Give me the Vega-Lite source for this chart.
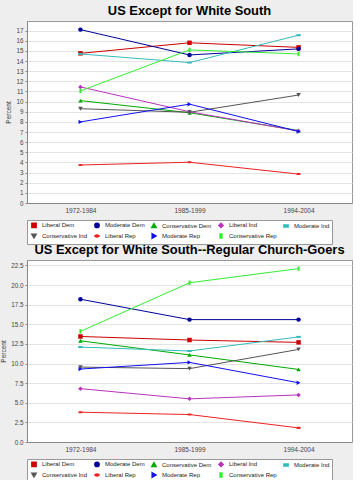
{
  "$schema": "https://vega.github.io/schema/vega-lite/v6.json",
  "background": "#eeeeee",
  "padding": {"left": 0, "top": 4, "right": 0, "bottom": 0},
  "spacing": -2,
  "datasets": {
    "all": [
      {"series": "Liberal Dem", "period": "1972-1984", "value": 14.76},
      {"series": "Liberal Dem", "period": "1985-1999", "value": 15.8},
      {"series": "Liberal Dem", "period": "1994-2004", "value": 15.35},
      {"series": "Moderate Dem", "period": "1972-1984", "value": 17.1},
      {"series": "Moderate Dem", "period": "1985-1999", "value": 14.6},
      {"series": "Moderate Dem", "period": "1994-2004", "value": 15.2},
      {"series": "Conservative Dem", "period": "1972-1984", "value": 10.1},
      {"series": "Conservative Dem", "period": "1985-1999", "value": 8.9},
      {"series": "Conservative Dem", "period": "1994-2004", "value": 7.15},
      {"series": "Liberal Ind", "period": "1972-1984", "value": 11.45},
      {"series": "Liberal Ind", "period": "1985-1999", "value": 9.0},
      {"series": "Liberal Ind", "period": "1994-2004", "value": 7.1},
      {"series": "Moderate Ind", "period": "1972-1984", "value": 14.7},
      {"series": "Moderate Ind", "period": "1985-1999", "value": 13.85},
      {"series": "Moderate Ind", "period": "1994-2004", "value": 16.55},
      {"series": "Conservative Ind", "period": "1972-1984", "value": 9.3},
      {"series": "Conservative Ind", "period": "1985-1999", "value": 8.95},
      {"series": "Conservative Ind", "period": "1994-2004", "value": 10.65},
      {"series": "Liberal Rep", "period": "1972-1984", "value": 3.75},
      {"series": "Liberal Rep", "period": "1985-1999", "value": 4.02},
      {"series": "Liberal Rep", "period": "1994-2004", "value": 2.85},
      {"series": "Moderate Rep", "period": "1972-1984", "value": 8.0},
      {"series": "Moderate Rep", "period": "1985-1999", "value": 9.75},
      {"series": "Moderate Rep", "period": "1994-2004", "value": 7.05},
      {"series": "Conservative Rep", "period": "1972-1984", "value": 11.05},
      {"series": "Conservative Rep", "period": "1985-1999", "value": 15.1},
      {"series": "Conservative Rep", "period": "1994-2004", "value": 14.7}
    ],
    "church": [
      {"series": "Liberal Dem", "period": "1972-1984", "value": 13.45},
      {"series": "Liberal Dem", "period": "1985-1999", "value": 13.0},
      {"series": "Liberal Dem", "period": "1994-2004", "value": 12.7},
      {"series": "Moderate Dem", "period": "1972-1984", "value": 18.2},
      {"series": "Moderate Dem", "period": "1985-1999", "value": 15.6},
      {"series": "Moderate Dem", "period": "1994-2004", "value": 15.6},
      {"series": "Conservative Dem", "period": "1972-1984", "value": 12.9},
      {"series": "Conservative Dem", "period": "1985-1999", "value": 11.1},
      {"series": "Conservative Dem", "period": "1994-2004", "value": 9.25},
      {"series": "Liberal Ind", "period": "1972-1984", "value": 6.8},
      {"series": "Liberal Ind", "period": "1985-1999", "value": 5.5},
      {"series": "Liberal Ind", "period": "1994-2004", "value": 6.0},
      {"series": "Moderate Ind", "period": "1972-1984", "value": 12.1},
      {"series": "Moderate Ind", "period": "1985-1999", "value": 11.6},
      {"series": "Moderate Ind", "period": "1994-2004", "value": 13.4},
      {"series": "Conservative Ind", "period": "1972-1984", "value": 9.55},
      {"series": "Conservative Ind", "period": "1985-1999", "value": 9.35},
      {"series": "Conservative Ind", "period": "1994-2004", "value": 11.8},
      {"series": "Liberal Rep", "period": "1972-1984", "value": 3.8},
      {"series": "Liberal Rep", "period": "1985-1999", "value": 3.5},
      {"series": "Liberal Rep", "period": "1994-2004", "value": 1.8},
      {"series": "Moderate Rep", "period": "1972-1984", "value": 9.3},
      {"series": "Moderate Rep", "period": "1985-1999", "value": 10.15},
      {"series": "Moderate Rep", "period": "1994-2004", "value": 7.55},
      {"series": "Conservative Rep", "period": "1972-1984", "value": 14.1},
      {"series": "Conservative Rep", "period": "1985-1999", "value": 20.3},
      {"series": "Conservative Rep", "period": "1994-2004", "value": 22.1}
    ]
  },
  "resolve": {
    "scale": {"color": "independent", "shape": "independent", "y": "independent", "x": "independent"},
    "legend": {"color": "independent", "shape": "independent"}
  },
  "vconcat": [
    {
      "title": "US Except for White South",
      "width": 325,
      "height": 182,
      "data": {"name": "all"},
      "encoding": {
        "x": {"field": "period", "type": "ordinal", "scale": {"type": "point", "padding": 0.49}, "axis": {"title": null, "labelAngle": 0, "ticks": false, "labelPadding": 4}},
        "y": {"field": "value", "type": "quantitative", "scale": {"domain": [0, 17.95], "nice": false}, "axis": {"title": "Percent", "values": [0,1,2,3,4,5,6,7,8,9,10,11,12,13,14,15,16,17], "format": "d"}},
        "color": {"field": "series", "type": "nominal", "title": null,
          "scale": {"domain": ["Liberal Dem","Moderate Dem","Conservative Dem","Liberal Ind","Moderate Ind","Conservative Ind","Liberal Rep","Moderate Rep","Conservative Rep"],
                    "range": ["#cc0000","#000099","#00aa00","#bb33bb","#33bbbb","#555555","#ee2222","#1111ee","#33ee33"]}}
      },
      "layer": [
        {"mark": {"type": "line", "strokeWidth": 1}},
        {"mark": {"type": "point", "filled": true, "opacity": 1, "size": 20},
         "encoding": {"shape": {"field": "series", "type": "nominal", "title": null,
           "scale": {"domain": ["Liberal Dem","Moderate Dem","Conservative Dem","Liberal Ind","Moderate Ind","Conservative Ind","Liberal Rep","Moderate Rep","Conservative Rep"],
                     "range": ["square","circle","triangle-up","diamond","M-1,-0.45H1V0.45H-1Z","triangle-down","M-1,0A1,0.45 0 1,0 1,0A1,0.45 0 1,0 -1,0Z","triangle-right","M-0.45,-1H0.45V1H-0.45Z"]}}}}
      ]
    },
    {
      "title": "US Except for White South--Regular Church-Goers",
      "width": 325,
      "height": 182,
      "data": {"name": "church"},
      "encoding": {
        "x": {"field": "period", "type": "ordinal", "scale": {"type": "point", "padding": 0.49}, "axis": {"title": null, "labelAngle": 0, "ticks": false, "labelPadding": 4}},
        "y": {"field": "value", "type": "quantitative", "scale": {"domain": [0, 23.2], "nice": false}, "axis": {"title": "Percent", "values": [0,2.5,5,7.5,10,12.5,15,17.5,20,22.5], "format": ".1f"}},
        "color": {"field": "series", "type": "nominal", "title": null,
          "scale": {"domain": ["Liberal Dem","Moderate Dem","Conservative Dem","Liberal Ind","Moderate Ind","Conservative Ind","Liberal Rep","Moderate Rep","Conservative Rep"],
                    "range": ["#cc0000","#000099","#00aa00","#bb33bb","#33bbbb","#555555","#ee2222","#1111ee","#33ee33"]}}
      },
      "layer": [
        {"mark": {"type": "line", "strokeWidth": 1}},
        {"mark": {"type": "point", "filled": true, "opacity": 1, "size": 20},
         "encoding": {"shape": {"field": "series", "type": "nominal", "title": null,
           "scale": {"domain": ["Liberal Dem","Moderate Dem","Conservative Dem","Liberal Ind","Moderate Ind","Conservative Ind","Liberal Rep","Moderate Rep","Conservative Rep"],
                     "range": ["square","circle","triangle-up","diamond","M-1,-0.45H1V0.45H-1Z","triangle-down","M-1,0A1,0.45 0 1,0 1,0A1,0.45 0 1,0 -1,0Z","triangle-right","M-0.45,-1H0.45V1H-0.45Z"]}}}}
      ]
    }
  ],
  "config": {
    "font": "Liberation Sans",
    "view": {"fill": "white", "stroke": "#999999"},
    "title": {"font": "Liberation Sans", "fontSize": 12.9, "fontWeight": "bold", "color": "#000000", "offset": 3, "anchor": "middle"},
    "axis": {"labelFont": "Liberation Sans", "labelFontSize": 6.3, "labelColor": "#444444", "domainColor": "#888888", "tickColor": "#888888", "tickSize": 2, "gridColor": "#e4e4e4", "titleFont": "Liberation Sans", "titleFontSize": 6.5, "titleFontWeight": "normal", "titleColor": "#333333", "titlePadding": 4},
    "axisX": {"grid": false, "labelFontSize": 6.5},
    "legend": {"orient": "bottom", "direction": "horizontal", "columns": 5, "labelFont": "Liberation Sans", "labelFontSize": 6, "labelColor": "#222222", "symbolSize": 18, "strokeColor": "#999999", "fillColor": "#ffffff", "padding": 2, "rowPadding": -1, "columnPadding": 3, "symbolOffset": 2, "offset": 6, "labelLimit": 120, "labelOffset": 5}
  }
}
